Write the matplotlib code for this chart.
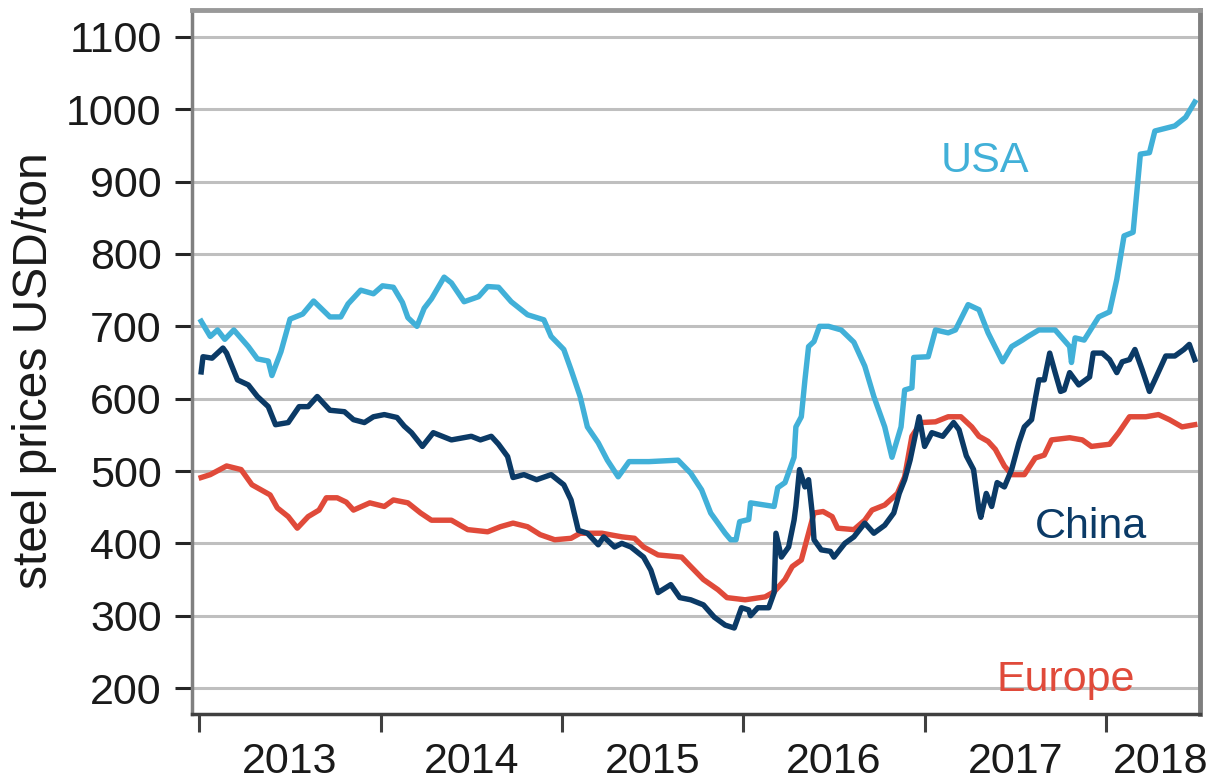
import matplotlib.pyplot as plt

plt.rcParams['font.family'] = ['Liberation Sans', 'DejaVu Sans']

# steel prices, USD/ton, x in decimal years
usa_x = [2013.01, 2013.06, 2013.10, 2013.14, 2013.19, 2013.27, 2013.32, 2013.38, 2013.40, 2013.45,
         2013.50, 2013.57, 2013.63, 2013.72, 2013.78, 2013.82, 2013.89, 2013.96, 2014.01, 2014.07,
         2014.12, 2014.15, 2014.20, 2014.24, 2014.28, 2014.35, 2014.39, 2014.46, 2014.54, 2014.59,
         2014.65, 2014.72, 2014.81, 2014.90, 2014.94, 2015.01, 2015.05, 2015.10, 2015.14, 2015.20,
         2015.25, 2015.31, 2015.37, 2015.48, 2015.64, 2015.71, 2015.77, 2015.82, 2015.90, 2015.93,
         2015.96, 2015.98, 2016.03, 2016.04, 2016.17, 2016.19, 2016.23, 2016.28, 2016.29, 2016.32,
         2016.34, 2016.36, 2016.39, 2016.42, 2016.47, 2016.54, 2016.61, 2016.67, 2016.72, 2016.78,
         2016.82, 2016.87, 2016.89, 2016.93, 2016.94, 2017.02, 2017.06, 2017.13, 2017.17, 2017.24,
         2017.30, 2017.35, 2017.43, 2017.48, 2017.54, 2017.57, 2017.63, 2017.72, 2017.80, 2017.81,
         2017.83, 2017.88, 2017.96, 2018.02, 2018.06, 2018.10, 2018.15, 2018.19, 2018.24, 2018.27,
         2018.38, 2018.44, 2018.49]
usa = [707, 686, 695, 682, 695, 672, 655, 652, 632, 665,
       710, 717, 735, 713, 713, 731, 750, 745, 756, 754,
       733, 712, 700, 725, 738, 768, 760, 734, 741, 755,
       754, 734, 716, 709, 686, 668, 640, 603, 561, 539,
       515, 492, 513, 513, 515, 497, 474, 442, 414, 405,
       405, 430, 433, 456, 451, 477, 484, 519, 561, 575,
       626, 672, 679, 700, 700, 695, 678, 645, 603, 561,
       519, 561, 612, 615, 657, 658, 695, 691, 695, 730,
       723, 691, 651, 672, 681, 686, 695, 695, 672, 650,
       684, 681, 713, 720, 765, 825, 830, 938, 940, 970,
       977, 989, 1010]

china_x = [2013.01, 2013.02, 2013.07, 2013.13, 2013.15, 2013.21, 2013.27, 2013.32, 2013.38, 2013.42,
           2013.49, 2013.55, 2013.60, 2013.65, 2013.72, 2013.80, 2013.85, 2013.91, 2013.96, 2014.02,
           2014.09, 2014.13, 2014.17, 2014.23, 2014.29, 2014.39, 2014.50, 2014.55, 2014.61, 2014.65,
           2014.70, 2014.73, 2014.79, 2014.86, 2014.94, 2015.01, 2015.05, 2015.09, 2015.14, 2015.20,
           2015.23, 2015.29, 2015.33, 2015.38, 2015.45, 2015.49, 2015.53, 2015.60, 2015.65, 2015.71,
           2015.78, 2015.84, 2015.90, 2015.95, 2015.99, 2016.03, 2016.04, 2016.08, 2016.14, 2016.17,
           2016.18, 2016.21, 2016.25, 2016.28, 2016.29, 2016.31, 2016.34, 2016.36, 2016.38, 2016.39,
           2016.43, 2016.48, 2016.50, 2016.56, 2016.61, 2016.67, 2016.72, 2016.78, 2016.83, 2016.86,
           2016.89, 2016.92, 2016.97, 2017.00, 2017.04, 2017.10, 2017.16, 2017.19, 2017.23, 2017.27,
           2017.30, 2017.31, 2017.34, 2017.37, 2017.40, 2017.44, 2017.48, 2017.52, 2017.55, 2017.59,
           2017.61, 2017.63, 2017.66, 2017.69, 2017.72, 2017.75, 2017.77, 2017.80, 2017.85, 2017.91,
           2017.93, 2017.98, 2018.02, 2018.06, 2018.09, 2018.13, 2018.16, 2018.20, 2018.24, 2018.27,
           2018.33, 2018.38, 2018.43, 2018.46, 2018.49]
china = [637, 658, 656, 670, 663, 626, 619, 603, 589, 564,
         567, 589, 589, 603, 584, 582, 571, 567, 575, 578,
         574, 562, 553, 534, 553, 543, 548, 543, 548, 537,
         520, 491, 495, 488, 495, 481, 460, 418, 414, 398,
         409, 395, 400, 395, 381, 363, 332, 343, 325, 322,
         315, 298, 287, 283, 311, 308, 300, 311, 311, 332,
         414, 381, 395, 432, 451, 502, 478, 488, 442, 405,
         391, 389, 381, 400, 409, 428, 414, 425, 442, 469,
         488, 515, 575, 534, 553, 548, 567, 557, 521, 502,
         446, 436, 469, 451, 484, 478, 502, 539, 561, 571,
         599, 626, 626, 663, 636, 610, 612, 636, 619, 630,
         663, 663, 654, 636, 651, 654, 668, 640, 610, 626,
         659, 659, 668, 675, 654]

europe_x = [2013.01, 2013.06, 2013.15, 2013.23, 2013.29, 2013.34, 2013.39, 2013.43, 2013.49, 2013.54,
            2013.60, 2013.66, 2013.70, 2013.76, 2013.81, 2013.85, 2013.94, 2014.02, 2014.07, 2014.15,
            2014.22, 2014.28, 2014.39, 2014.48, 2014.59, 2014.66, 2014.73, 2014.81, 2014.88, 2014.96,
            2015.05, 2015.10, 2015.22, 2015.33, 2015.40, 2015.45, 2015.53, 2015.66, 2015.71, 2015.78,
            2015.86, 2015.91, 2016.01, 2016.12, 2016.17, 2016.23, 2016.27, 2016.32, 2016.36, 2016.39,
            2016.44, 2016.49, 2016.52, 2016.61, 2016.67, 2016.71, 2016.78, 2016.85, 2016.89, 2016.93,
            2016.98, 2017.06, 2017.13, 2017.20, 2017.26, 2017.30, 2017.35, 2017.39, 2017.44, 2017.48,
            2017.55, 2017.61, 2017.66, 2017.70, 2017.80, 2017.87, 2017.92, 2018.02, 2018.07, 2018.13,
            2018.22, 2018.29, 2018.35, 2018.42, 2018.49]
europe = [491, 495, 507, 502, 481, 474, 467, 449, 437, 421,
          437, 446, 463, 463, 457, 446, 456, 451, 460, 456,
          442, 432, 432, 419, 416, 423, 428, 423, 412, 405,
          407, 414, 414, 409, 407, 395, 384, 381, 368, 350,
          336, 325, 322, 326, 333, 350, 368, 377, 414, 442,
          444, 437, 421, 419, 432, 446, 453, 469, 492, 548,
          567, 568, 575, 575, 561, 548, 541, 530, 507, 495,
          495, 518, 522, 543, 546, 543, 534, 537, 553, 575,
          575, 578, 571, 561, 564]

years = ['2013', '2014', '2015', '2016', '2017', '2018']
year_pos = [2013.5, 2014.5, 2015.5, 2016.5, 2017.5, 2018.3]
yticks = [200, 300, 400, 500, 600, 700, 800, 900, 1000, 1100]

c_usa = '#41b0d8'
c_china = '#0b3a66'
c_europe = '#e04a3a'

fig = plt.figure(figsize=(12.16, 7.83), dpi=100)
ax = fig.add_axes([0.158, 0.088, 0.829, 0.899])

for y in yticks:
    ax.axhline(y, color='#bfbfbf', lw=2.2, zorder=1)

ax.plot(usa_x, usa, color=c_usa, lw=3.9, zorder=3)
ax.plot(europe_x, europe, color=c_europe, lw=3.9, zorder=3)
ax.plot(china_x, china, color=c_china, lw=3.9, zorder=4)

ax.text(2017.33, 929, 'USA', color=c_usa, fontsize=31, ha='center', va='center')
ax.text(2017.92, 423, 'China', color=c_china, fontsize=31, ha='center', va='center')
ax.text(2017.78, 211, 'Europe', color=c_europe, fontsize=31, ha='center', va='center')

ax.set_xlim(2012.96, 2018.52)
ax.set_ylim(164, 1137)
ax.set_yticks(yticks)
ax.set_yticklabels([str(v) for v in yticks])
ax.tick_params(axis='y', labelsize=31, length=12, width=2.2, color='#262626', pad=10, labelcolor='#1a1a1a')

ax.set_xticks([2013, 2014, 2015, 2016, 2017, 2018])
ax.set_xticklabels([])
ax.set_xticks(year_pos, minor=True)
ax.set_xticklabels(years, minor=True)
ax.tick_params(axis='x', which='major', length=13, width=2.2, color='#404040')
ax.tick_params(axis='x', which='minor', length=0, labelsize=31, pad=20, labelcolor='#1a1a1a')

ax.set_ylabel('steel prices USD/ton', fontsize=34.5, color='#1a1a1a')
ax.yaxis.set_label_coords(-0.134, 0.488)

ax.spines['top'].set_color('#999999')
ax.spines['top'].set_linewidth(3.5)
ax.spines['left'].set_color('#808080')
ax.spines['left'].set_linewidth(2.5)
ax.spines['bottom'].set_color('#404040')
ax.spines['bottom'].set_linewidth(2.5)
ax.spines['right'].set_color('#7f7f7f')
ax.spines['right'].set_linewidth(3.5)

fig.savefig('out.png', dpi=100)
